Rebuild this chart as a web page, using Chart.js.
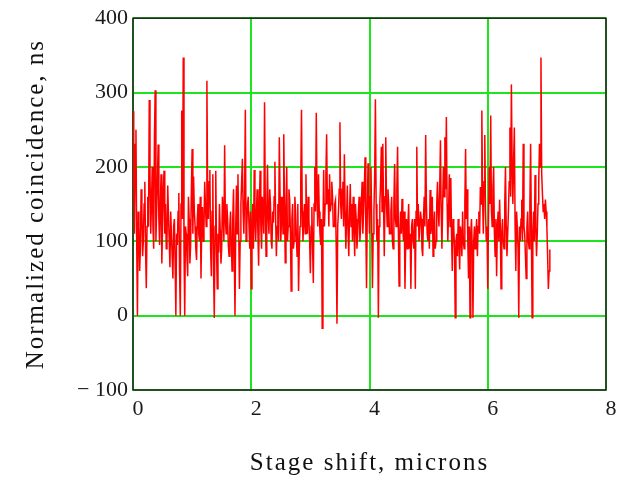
<!DOCTYPE html>
<html>
<head>
<meta charset="utf-8">
<script src="https://cdn.jsdelivr.net/npm/chart.js@4"></script>
<style>
  html, body { margin: 0; padding: 0; background: #fff; }
</style>
</head>
<body>
<canvas id="chart" width="630" height="482"></canvas>
<script>
  // Stage shift step between samples (microns)
  const STEP = 0.0125;

  // Normalized coincidence (ns)
  const coincidence = [
    275, 180, 110, 230, 250, 100, 0, 140, 120, 60, 90, 170, 145, 80, 100, 150, 180, 90, 37, 120,
    160, 120, 290, 190, 110, 150, 200, 120, 90, 240, 303, 100, 140, 180, 230, 130, 95, 150, 190, 70,
    120, 170, 195, 110, 150, 90, 100, 175, 135, 100, 65, 140, 110, 80, 50, 120, 130, 70, 0, 110,
    95, 140, 165, 60, 0, 150, 276, 130, 347, 90, 0, 120, 110, 80, 53, 160, 130, 70, 95, 170,
    224, 110, 187, 140, 120, 90, 75, 130, 150, 110, 100, 160, 50, 120, 146, 100, 116, 180, 150, 120,
    316, 160, 130, 180, 196, 90, 53, 140, 190, 60, -3, 120, 195, 90, 36, 110, 85, 150, 115, 70,
    90, 160, 140, 100, 229, 130, 110, 150, 130, 95, 80, 120, 140, 100, 60, 130, 170, 90, 0, 120,
    175, 110, 190, 120, 36, 100, 150, 180, 211, 140, 110, 160, 277, 100, 120, 150, 160, 120, 90, 140,
    36, 120, 150, 90, 196, 130, 100, 140, 170, 110, 67, 150, 195, 120, 90, 160, 140, 110, 287, 150,
    80, 140, 203, 130, 110, 170, 150, 100, 90, 140, 125, 160, 207, 130, 80, 120, 150, 100, 240, 160,
    100, 130, 160, 110, 244, 150, 71, 140, 200, 100, 120, 170, 156, 110, 33, 130, 150, 90, 100, 160,
    140, 110, 80, 150, 33, 90, 120, 180, 277, 140, 100, 130, 150, 110, 190, 130, 110, 160, 130, 100,
    57, 120, 146, 90, 44, 150, 200, 140, 273, 160, 120, 190, 140, 110, 95, 130, -17, 110, 196, 120,
    150, 190, 244, 150, 170, 120, 190, 140, 150, 180, 160, 120, 120, 150, 155, 90, -11, 120, 140, 170,
    260, 150, 130, 170, 180, 120, 217, 140, 90, 130, 175, 110, 80, 140, 177, 120, 150, 100, 160, 120,
    80, 150, 130, 90, 110, 140, 160, 100, 120, 150, 180, 110, 140, 170, 213, 120, 37, 140, 205, 150,
    110, 160, 200, 120, 37, 110, 140, 190, 291, 150, 100, 130, -3, 120, 150, 180, 227, 140, 231, 150,
    80, 160, 240, 150, 120, 170, 150, 110, 110, 140, 160, 100, 90, 150, 204, 130, 120, 170, 227, 120,
    40, 110, 140, 110, 157, 120, 100, 140, 36, 100, 130, 90, 123, 150, 90, 110, 36, 120, 130, 100,
    90, 130, 36, 140, 227, 120, 150, 100, 100, 140, 130, 90, 80, 130, 160, 120, 243, 150, 110, 100,
    130, 90, 169, 110, 120, 160, 80, 120, 140, 90, 100, 150, 180, 140, 120, 170, 236, 140, 90, 150,
    200, 160, 240, 170, 267, 150, 100, 140, 190, 120, 185, 110, 60, 130, 120, 90, -3, 100, 110, 80,
    130, 100, 62, 120, 110, 80, 140, 100, 90, 150, 224, 130, 170, 100, 50, 120, -3, 110, 130, 90,
    -3, 100, 120, 90, 110, 130, 80, 120, 140, 110, 173, 150, 276, 160, 110, 180, 243, 140, 100, 120,
    36, 130, 200, 150, 269, 140, 120, 170, 200, 110, 80, 130, 53, 120, 140, 100, 156, 120, 36, 110,
    130, 100, 90, 150, 200, 120, 80, 110, 140, 180, 253, 160, 311, 200, 150, 210, 253, 120, 60, 140,
    120, 90, -3, 120, 100, 130, 156, 100, 231, 120, 110, 80, 50, 120, 140, 100, 90, 150, 231, 120,
    -3, 110, 140, 100, 189, 120, 80, 110, 150, 180, 231, 200, 347, 190, 164, 140, 150, 130, 156, 140,
    120, 80, 36, 60, 89
  ];

  // Axis ticks
  const xTicks = [0, 2, 4, 6, 8];
  const yTicks = [-100, 0, 100, 200, 300, 400];

  const points = coincidence.map((v, i) => ({ x: i * STEP, y: v }));

  const serif = '"Liberation Serif", "Times New Roman", serif';
  const gridGreen = 'rgb(30, 228, 30)';

  // black frame round the plot area, under the trace
  const framePlugin = {
    id: 'frame',
    beforeDatasetsDraw(chart) {
      const { ctx, chartArea: a } = chart;
      ctx.save();
      ctx.strokeStyle = '#222';
      ctx.lineWidth = 1.5;
      ctx.strokeRect(a.left, a.top, a.right - a.left, a.bottom - a.top);
      ctx.restore();
    }
  };

  // wider letter spacing for the axis titles
  const titleSpacing = {
    id: 'titleSpacing',
    beforeDraw(chart) {
      Object.values(chart.scales).forEach(scale => {
        if (scale._spaced) return;
        const orig = scale.drawTitle;
        scale.drawTitle = function () {
          const ctx = this.ctx;
          ctx.save();
          ctx.letterSpacing = '2px';
          orig.call(this);
          ctx.restore();
        };
        scale._spaced = true;
      });
    }
  };

  new Chart(document.getElementById('chart').getContext('2d'), {
    type: 'line',
    data: {
      datasets: [{
        data: points,
        borderColor: '#ff0000',
        borderWidth: 1.5,
        pointRadius: 0,
        tension: 0,
        fill: false
      }]
    },
    options: {
      responsive: false,
      animation: false,
      devicePixelRatio: 1,
      parsing: false,
      layout: { padding: { top: 15, right: 24, bottom: 0, left: 0 } },
      plugins: { legend: { display: false }, tooltip: { enabled: false } },
      scales: {
        x: {
          type: 'linear',
          min: 0,
          max: 8,
          afterBuildTicks: s => { s.ticks = xTicks.map(v => ({ value: v })); },
          afterFit: s => { s.height = 92; },
          grid: { color: gridGreen, lineWidth: 2, drawTicks: false },
          border: { display: false },
          ticks: {
            font: { family: serif, size: 22 },
            color: '#1a1a1a',
            padding: 6,
            labelOffset: 5,
            maxRotation: 0
          },
          title: {
            display: true,
            text: 'Stage shift, microns',
            font: { family: serif, size: 25 },
            color: '#111',
            padding: { top: 0, bottom: 4 }
          }
        },
        y: {
          type: 'linear',
          min: -100,
          max: 400,
          afterBuildTicks: s => { s.ticks = yTicks.map(v => ({ value: v })); },
          afterFit: s => { s.width = 133; },
          grid: { color: gridGreen, lineWidth: 2, drawTicks: false },
          border: { display: false },
          ticks: {
            font: { family: serif, size: 22 },
            color: '#1a1a1a',
            padding: 5,
            callback: v => v < 0 ? '\u2212 ' + Math.abs(v) : String(v)
          },
          title: {
            display: true,
            text: 'Normalized coincidence, ns',
            font: { family: serif, size: 25 },
            color: '#111',
            padding: { top: 21, bottom: 0 }
          }
        }
      }
    },
    plugins: [framePlugin, titleSpacing]
  });
</script>
</body>
</html>
